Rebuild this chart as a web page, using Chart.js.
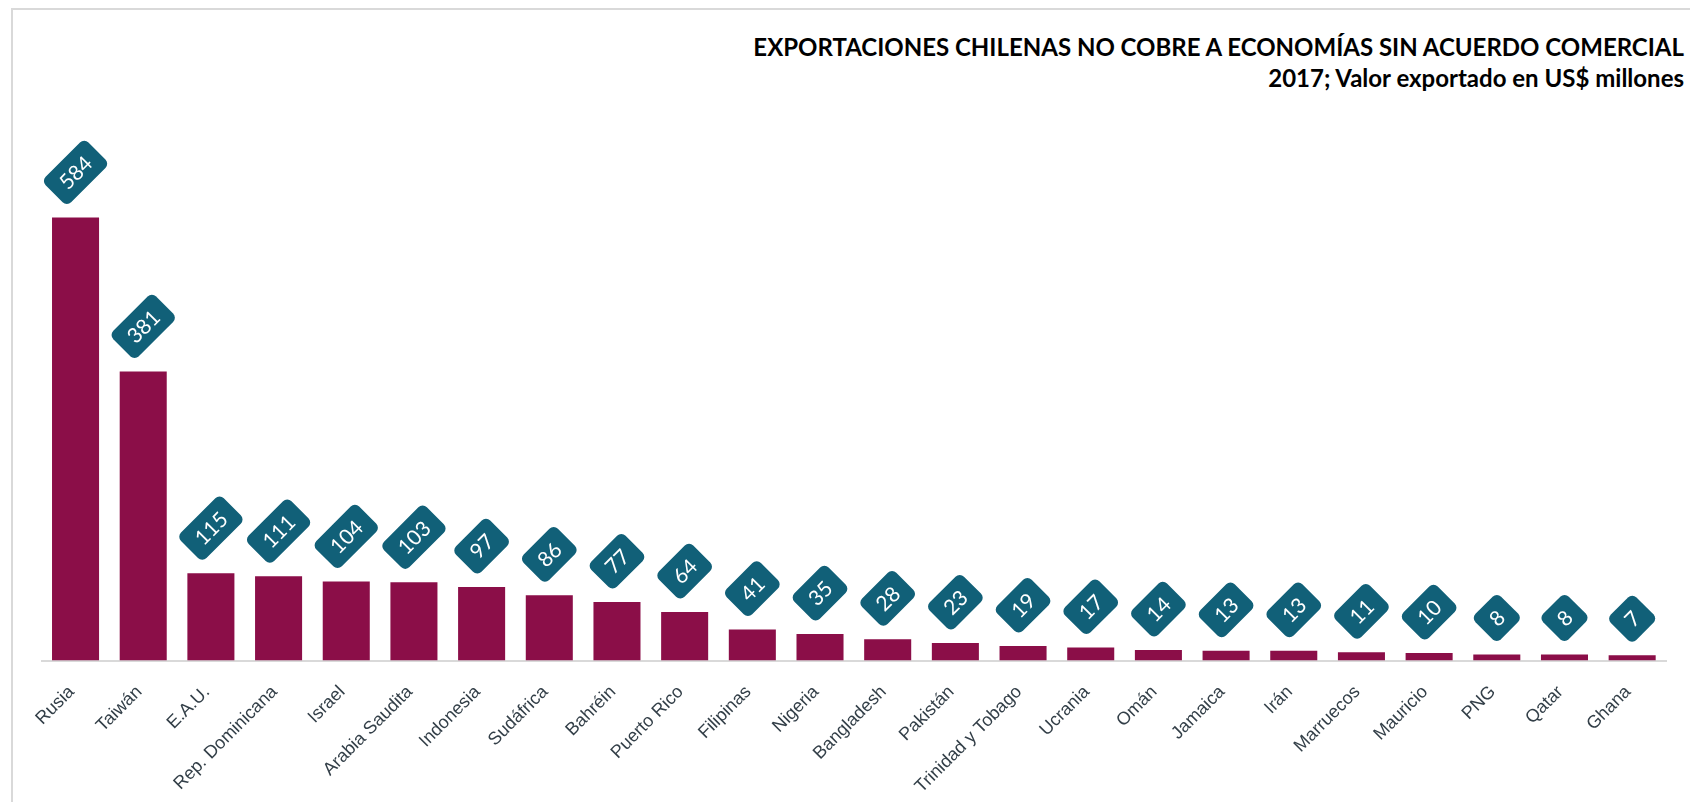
<!DOCTYPE html>
<html>
<head>
<meta charset="utf-8">
<script src="https://cdn.jsdelivr.net/npm/chart.js@4.4.1/dist/chart.umd.min.js"></script>
<style>
  html, body { margin: 0; padding: 0; background: #fff; }
  #wrap { position: relative; width: 1690px; height: 802px; overflow: hidden; }
  #frame { position: absolute; left: 11px; top: 8px; width: 1700px; height: 820px;
           border-left: 2px solid #d9d9d9; border-top: 2px solid #d9d9d9; }
  #title { position: absolute; right: 6px; top: 31px; text-align: right;
           font-family: Lato, sans-serif; font-weight: 700; font-size: 24px;
           line-height: 31px; color: #000; white-space: nowrap; }
  #chart { position: absolute; left: 0; top: 0; }
</style>
</head>
<body>
<div id="wrap">
  <div id="frame"></div>
  <div id="title">EXPORTACIONES CHILENAS NO COBRE A ECONOMÍAS SIN ACUERDO COMERCIAL<br>2017; Valor exportado en US$ millones</div>
  <canvas id="chart" width="1690" height="802"></canvas>
</div>
<script>
// datos
const paises = ['Rusia', 'Taiwán', 'E.A.U.', 'Rep. Dominicana', 'Israel', 'Arabia Saudita', 'Indonesia',
  'Sudáfrica', 'Bahréin', 'Puerto Rico', 'Filipinas', 'Nigeria', 'Bangladesh', 'Pakistán',
  'Trinidad y Tobago', 'Ucrania', 'Omán', 'Jamaica', 'Irán', 'Marruecos', 'Mauricio', 'PNG', 'Qatar', 'Ghana'];
const valores = [584, 381, 115, 111, 104, 103, 97, 86, 77, 64, 41, 35, 28, 23, 19, 17, 14, 13, 13, 11, 10, 8, 8, 7];

const colorBarra = '#8b0e48';
const colorEtiqueta = '#116078';

// etiquetas giradas sobre cada barra
const etiquetasValor = {
  id: 'etiquetasValor',
  afterDatasetsDraw(chart) {
    const ctx = chart.ctx;
    const meta = chart.getDatasetMeta(0);
    ctx.save();
    ctx.font = '21px Lato, sans-serif';
    meta.data.forEach((bar, i) => {
      const txt = String(valores[i]);
      const w = ctx.measureText(txt).width + 24;
      const h = 36;
      const half = (w + h) / Math.SQRT2 / 2;
      const cx = bar.x;
      const cy = bar.y - 11 - half;
      ctx.save();
      ctx.translate(cx, cy);
      ctx.rotate(-Math.PI / 4);
      ctx.fillStyle = colorEtiqueta;
      ctx.beginPath();
      ctx.roundRect(-w / 2, -h / 2, w, h, 6);
      ctx.fill();
      ctx.fillStyle = '#fff';
      ctx.textAlign = 'center';
      ctx.textBaseline = 'middle';
      ctx.fillText(txt, 0, 1);
      ctx.restore();
    });
    ctx.restore();
  }
};

new Chart(document.getElementById('chart'), {
  type: 'bar',
  data: {
    labels: paises,
    datasets: [{
      data: valores,
      backgroundColor: colorBarra,
      borderWidth: 0,
      categoryPercentage: 1,
      barPercentage: 0.695
    }]
  },
  options: {
    responsive: false,
    animation: false,
    layout: { padding: { left: 41.7, right: 24, top: 129.5, bottom: 0 } },
    plugins: {
      legend: { display: false },
      tooltip: { enabled: false }
    },
    scales: {
      y: { display: false, min: 0, max: 700 },
      x: {
        grid: { display: false, drawTicks: false },
        border: { display: true, color: '#d9d9d9', width: 2 },
        ticks: {
          autoSkip: false,
          maxRotation: 45,
          minRotation: 45,
          padding: 21,
          labelOffset: -4,
          color: '#333f48',
          font: { family: 'Liberation Sans, Arial, sans-serif', size: 18 }
        },
        afterFit(scale) { scale.height = 141.5; }
      }
    }
  },
  plugins: [etiquetasValor]
});
</script>
</body>
</html>
